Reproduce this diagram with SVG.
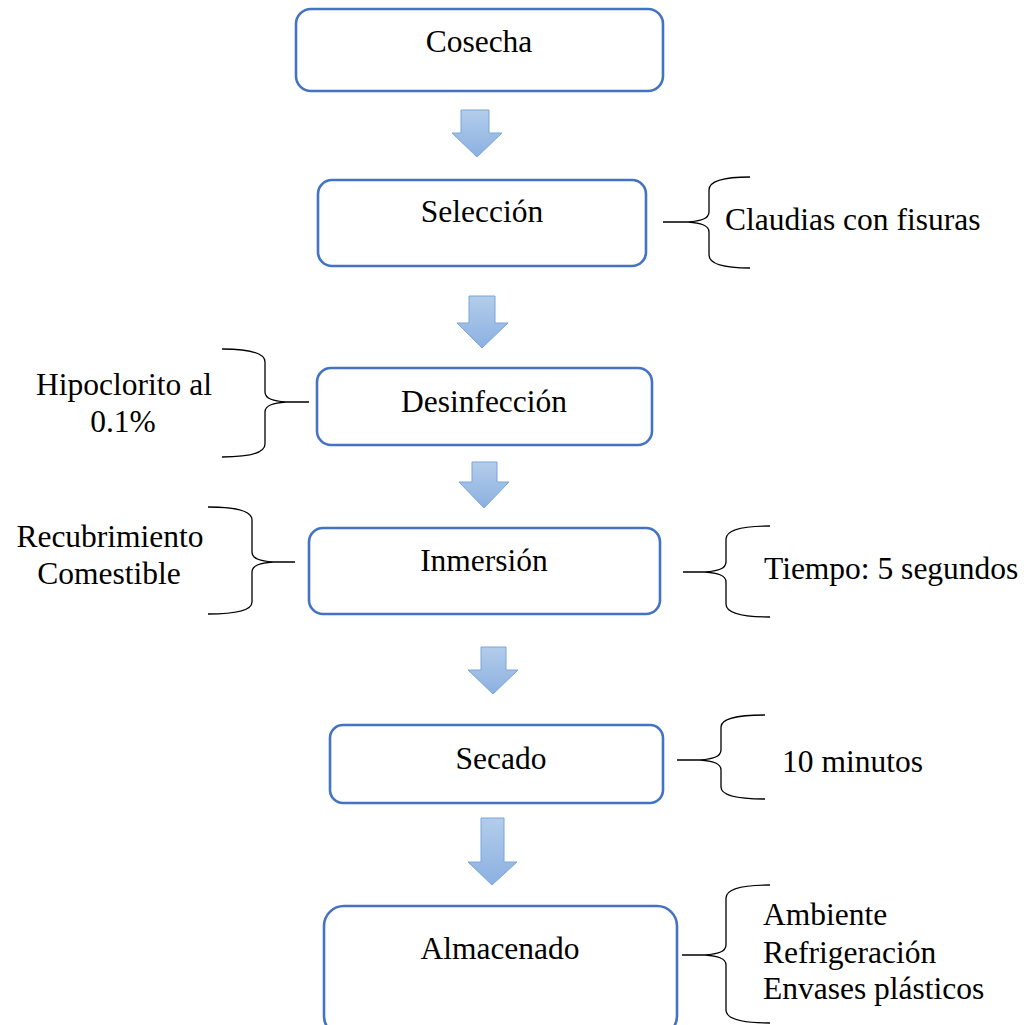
<svg xmlns="http://www.w3.org/2000/svg" width="1033" height="1025" viewBox="0 0 1033 1025">
<style>
.box{fill:#fff;stroke:#4472C4;stroke-width:2.6}
.t{font-family:"Liberation Serif","Times New Roman",serif;font-size:31.5px;fill:#000}
.m{text-anchor:middle}
.br{fill:none;stroke:#000;stroke-width:1.3}
.arr{fill:url(#g);stroke:#7aa5da;stroke-width:1}
</style>
<defs>
<linearGradient id="g" x1="0" y1="0" x2="0" y2="1">
<stop offset="0" stop-color="#b3cdeb"/>
<stop offset="1" stop-color="#8bb0e0"/>
</linearGradient>
</defs>
<rect width="1033" height="1025" fill="#fff"/>
<g id="connectors">
<path class="arr" d="M461,110 H489 V133 H502 L477,157 L452,133 H461 Z"/>
<path class="arr" d="M469,296 H495 V323 H508 L482,348 L457,323 H469 Z"/>
<path class="arr" d="M472,462 H497 V482 H509 L484,508 L459,482 H472 Z"/>
<path class="arr" d="M481,647 H506 V670 H518 L493,694 L468,670 H481 Z"/>
<path class="arr" d="M481,818 H504 V862 H517 L492,885 L468,862 H481 Z"/>
</g>
<g id="cosecha">
<rect class="box" x="296" y="9" width="367" height="82" rx="15"/>
<text class="t m" x="479" y="52">Cosecha</text>
</g>
<g id="seleccion">
<rect class="box" x="318" y="180" width="328" height="86" rx="14"/>
<text class="t m" x="482" y="222">Selección</text>
</g>
<g id="brace-seleccion">
<path class="br" d="M663,222 H688 M750,177 Q709,177 709,190 V212 C709,219 700,221 688,222 C700,223 709,225 709,232 V255 Q709,268 750,268"/>
<text class="t" x="725" y="230">Claudias con fisuras</text>
</g>
<g id="desinfeccion">
<rect class="box" x="317" y="368" width="335" height="77" rx="14"/>
<text class="t m" x="484" y="412">Desinfección</text>
</g>
<g id="brace-desinfeccion">
<path class="br" d="M309,402 H286 M222,349 Q265,349 265,362 V392 C265,399 274,401 286,402 C274,403 265,405 265,412 V444 Q265,457 222,457"/>
<text class="t m" x="124" y="395">Hipoclorito al</text>
<text class="t m" x="123" y="432">0.1%</text>
</g>
<g id="inmersion">
<rect class="box" x="309" y="528" width="351" height="86" rx="14"/>
<text class="t m" x="484" y="571">Inmersión</text>
</g>
<g id="brace-recubrimiento">
<path class="br" d="M295,562 H273 M208,507 Q252,507 252,520 V552 C252,559 261,561 273,562 C261,563 252,565 252,572 V602 Q252,614 208,614"/>
<text class="t m" x="110" y="547">Recubrimiento</text>
<text class="t m" x="109" y="584">Comestible</text>
</g>
<g id="brace-tiempo">
<path class="br" d="M683,572 H705 M770,526 Q726,526 726,539 V562 C726,569 717,571 705,572 C717,573 726,575 726,582 V604 Q726,617 770,617"/>
<text class="t" x="764" y="579">Tiempo: 5 segundos</text>
</g>
<g id="secado">
<rect class="box" x="330" y="725" width="333" height="78" rx="13"/>
<text class="t m" x="501" y="769">Secado</text>
</g>
<g id="brace-secado">
<path class="br" d="M677,760 H700 M765,715 Q721,715 721,727 V750 C721,757 712,759 700,760 C712,761 721,763 721,770 V787 Q721,799 765,799"/>
<text class="t" x="782" y="772">10 minutos</text>
</g>
<g id="almacenado">
<rect class="box" x="324" y="906" width="353" height="130" rx="20"/>
<text class="t m" x="500" y="959">Almacenado</text>
</g>
<g id="brace-almacenado">
<path class="br" d="M682,955 H705 M770,885 Q726,885 726,898 V945 C726,952 717,954 705,955 C717,956 726,958 726,965 V1010 Q726,1023 770,1023"/>
<text class="t" x="763" y="925">Ambiente</text>
<text class="t" x="763" y="963">Refrigeración</text>
<text class="t" x="763" y="999">Envases plásticos</text>
</g>
</svg>
